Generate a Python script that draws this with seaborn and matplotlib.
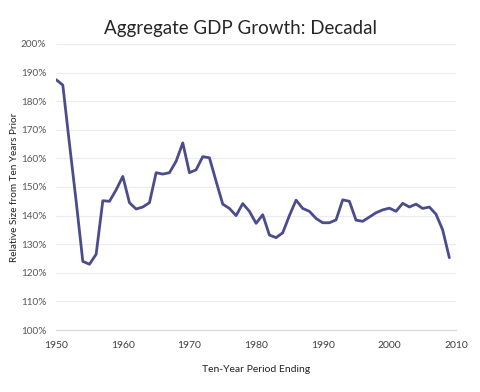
import numpy as np
import pandas as pd
import matplotlib
matplotlib.use("Agg")
import matplotlib.pyplot as plt
import seaborn as sns
from matplotlib.ticker import FuncFormatter

years = list(range(1950, 2010))
growth = [
    187.5, 185.6, 165, 145, 124, 123, 126.5, 145.2, 145, 149,
    153.7, 144.5, 142.3, 143, 144.5, 155, 154.5, 155, 159, 165.4,
    155, 156, 160.6, 160.2, 152, 144, 142.5, 140, 144.2, 141.5,
    137.3, 140.3, 133.2, 132.3, 134, 140, 145.4, 142.5, 141.5, 139,
    137.5, 137.5, 138.5, 145.5, 145, 138.4, 138, 139.5, 141, 142,
    142.6, 141.5, 144.3, 143, 144, 142.5, 143, 140.5, 135, 125.3,
]

df = pd.DataFrame({"year": years, "growth": growth})

sns.set_style("white")
plt.rcParams["font.family"] = ["Lato", "DejaVu Sans"]

fig = plt.figure(figsize=(4.8, 3.92), dpi=100)
ax = fig.add_axes([0.117, 0.158, 0.833, 0.73])

sns.lineplot(data=df, x="year", y="growth", color="#4b4c8e", linewidth=2.0, ax=ax)

ax.set_xlim(1950, 2010)
ax.set_ylim(100, 200)
ax.set_xticks(range(1950, 2011, 10))
ax.set_yticks(range(100, 201, 10))
ax.yaxis.set_major_formatter(FuncFormatter(lambda v, p: f"{v:.0f}%"))
ax.grid(axis="y", color="#ececec", linewidth=0.8)
ax.set_axisbelow(True)
for s in ["top", "right", "left"]:
    ax.spines[s].set_visible(False)
ax.spines["bottom"].set_color("#d9d9d9")
ax.tick_params(axis="y", length=0, labelsize=7.2, colors="#595959", pad=7)
ax.tick_params(axis="x", length=0, labelsize=7.5, colors="#404040", pad=8)

ax.set_xlabel("Ten-Year Period Ending", fontsize=7.5, color="#222222", labelpad=11)
ax.set_ylabel("Relative Size from Ten Years Prior", fontsize=7.2, color="#222222")
ax.yaxis.set_label_coords(-0.0925, 0.5)
fig.suptitle("Aggregate GDP Growth: Decadal", fontsize=13.5, y=0.95)

fig.savefig("out.png", dpi=100)
